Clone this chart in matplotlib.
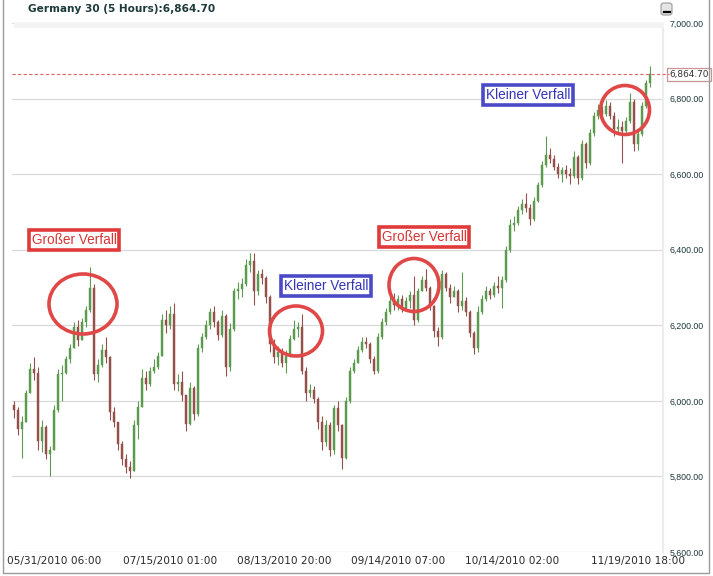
import matplotlib
matplotlib.use("Agg")
import matplotlib.pyplot as plt
import matplotlib.transforms as mtransforms
from matplotlib.patches import Ellipse, FancyBboxPatch, Rectangle
import numpy as np

# ---------------- data ----------------
title = "Germany 30 (5 Hours):6,864.70"
last_price = 6864.70
first_open = 5990

highs = [6000, 5985, 5960, 6030, 6100, 6115, 6090, 5950, 5935, 5880,
         5990, 6085, 6095, 6120, 6150, 6210, 6215, 6220, 6250, 6355,
         6310, 6110, 6150, 6170, 6120, 5985, 5940, 5895, 5860, 5840,
         5950, 6000, 6085, 6080, 6090, 6110, 6130, 6230, 6240, 6250,
         6260, 6070, 6080, 6010, 6050, 6040, 6150, 6180, 6215, 6245,
         6250, 6215, 6240, 6230, 6205, 6300, 6315, 6325, 6375, 6390,
         6390, 6345, 6350, 6330, 6280, 6165, 6145, 6140, 6135, 6175,
         6215, 6210, 6230, 6090, 6045, 6040, 6010, 5960, 5950, 5945,
         5990, 6000, 5940, 6010, 6090, 6110, 6145, 6170, 6170, 6155,
         6120, 6180, 6220, 6245, 6280, 6285, 6280, 6280, 6275, 6290,
         6330, 6300, 6330, 6350, 6305, 6255, 6195, 6345, 6340, 6310,
         6305, 6295, 6340, 6275, 6240, 6185, 6250, 6280, 6305, 6300,
         6315, 6330, 6330, 6410, 6480, 6490, 6515, 6535, 6550, 6520,
         6540, 6580, 6635, 6700, 6670, 6650, 6630, 6620, 6625, 6615,
         6660, 6650, 6690, 6685, 6720, 6765, 6785, 6780, 6795, 6790,
         6765, 6745, 6740, 6750, 6815, 6800, 6720, 6790, 6850, 6885]

lows = [5955, 5910, 5850, 5950, 6030, 6055, 5870, 5865, 5845, 5800,
        5880, 5970, 6000, 6070, 6100, 6140, 6145, 6160, 6195, 6235,
        6055, 6050, 6090, 6100, 5950, 5930, 5870, 5830, 5810, 5795,
        5830, 5900, 5985, 6030, 6040, 6075, 6085, 6120, 6180, 6190,
        6030, 6025, 6000, 5920, 5935, 5950, 5960, 6130, 6165, 6190,
        6195, 6160, 6170, 6065, 6080, 6185, 6270, 6275, 6305, 6340,
        6255, 6280, 6310, 6260, 6130, 6100, 6095, 6090, 6075, 6115,
        6160, 6170, 6070, 6000, 6010, 5995, 5925, 5870, 5880, 5855,
        5860, 5920, 5820, 5845, 5995, 6075, 6100, 6130, 6140, 6100,
        6070, 6075, 6165, 6200, 6230, 6240, 6240, 6235, 6240, 6245,
        6200, 6210, 6290, 6290, 6240, 6170, 6145, 6165, 6290, 6260,
        6275, 6235, 6240, 6225, 6170, 6125, 6130, 6230, 6265, 6270,
        6275, 6285, 6245, 6315, 6395, 6450, 6465, 6495, 6500, 6465,
        6475, 6525, 6565, 6620, 6630, 6610, 6590, 6580, 6590, 6575,
        6590, 6575, 6585, 6615, 6625, 6700, 6745, 6745, 6755, 6745,
        6700, 6705, 6630, 6705, 6735, 6660, 6665, 6700, 6775, 6830]

closes = [5975, 5925, 5945, 6020, 6085, 6075, 5895, 5930, 5860, 5870,
          5975, 6070, 6075, 6110, 6140, 6195, 6160, 6210, 6240, 6300,
          6070, 6095, 6135, 6115, 5970, 5945, 5885, 5845, 5825, 5815,
          5935, 5985, 6060, 6045, 6080, 6090, 6120, 6215, 6200, 6230,
          6045, 6050, 6015, 5940, 6035, 5965, 6140, 6170, 6200, 6235,
          6210, 6175, 6225, 6090, 6190, 6290, 6295, 6310, 6360, 6370,
          6290, 6335, 6325, 6275, 6150, 6115, 6130, 6100, 6120, 6165,
          6190, 6195, 6080, 6020, 6030, 6005, 5945, 5890, 5935, 5870,
          5980, 5935, 5850, 6000, 6080, 6100, 6135, 6155, 6150, 6110,
          6080, 6170, 6210, 6235, 6265, 6255, 6270, 6245, 6265, 6280,
          6215, 6290, 6320, 6300, 6250, 6185, 6170, 6335, 6300, 6275,
          6290, 6250, 6265, 6235, 6180, 6140, 6235, 6270, 6290, 6280,
          6305, 6300, 6320, 6400, 6465, 6470, 6505, 6520, 6510, 6480,
          6530, 6570, 6625, 6650, 6640, 6620, 6600, 6610, 6600, 6595,
          6645, 6590, 6680, 6630, 6710, 6755, 6770, 6760, 6780, 6755,
          6720, 6725, 6715, 6740, 6790, 6680, 6705, 6780, 6840, 6864.7]

y_ticks = [5600, 5800, 6000, 6200, 6400, 6600, 6800, 7000]
date_labels = ["05/31/2010 06:00", "07/15/2010 01:00", "08/13/2010 20:00",
               "09/14/2010 07:00", "10/14/2010 02:00", "11/19/2010 18:00"]
date_label_bars = [10, 39, 67.5, 96, 124.5, 156]

annotations = [
    ("Großer Verfall", "red", (74, 240), (83, 304), (68, 60)),
    ("Kleiner Verfall", "blue", (326, 286), (296, 331), (53, 50)),
    ("Großer Verfall", "red", (424, 237), (414, 285), (50, 53)),
    ("Kleiner Verfall", "blue", (528, 95), (625, 110), (49, 49)),
]

# ---------------- figure ----------------
W, H = 713, 576
fig = plt.figure(figsize=(W / 100, H / 100), dpi=100)
fig.patch.set_facecolor("white")

def fx(px):
    return px / W

def fy(py):
    return 1 - py / H

ax_left, ax_right, ax_top, ax_bot = 12, 663, 23, 552
ax = fig.add_axes([fx(ax_left), fy(ax_bot), fx(ax_right - ax_left), (ax_bot - ax_top) / H])
ax.set_facecolor("white")

n = len(closes)
x = np.arange(n)
opens = np.array([first_open] + closes[:-1], dtype=float)
c = np.array(closes, dtype=float)
hi = np.maximum(np.array(highs, dtype=float), np.maximum(opens, c))
lo = np.minimum(np.array(lows, dtype=float), np.minimum(opens, c))
up = c >= opens

up_col = "#5c9a50"
dn_col = "#94504a"
cols = np.where(up, up_col, dn_col)

ax.vlines(x, lo, hi, colors=cols, linewidth=0.8, zorder=3)
body_h = np.abs(c - opens)
body_h = np.where(body_h < 2, 2, body_h)
ax.bar(x, body_h, bottom=np.minimum(opens, c), width=0.5, color=cols,
       edgecolor=cols, linewidth=0.3, zorder=4)

ax.set_xlim(-0.5, (ax_right - 14) / 4)
ax.set_ylim(5600, 7000)

for yv in y_ticks:
    ax.axhline(yv, color="#d9d9d9", linewidth=0.9, zorder=1)

ax.yaxis.tick_right()
ax.set_yticks(y_ticks)
ax.set_yticklabels([f"{v:,.2f}" for v in y_ticks], fontsize=6.3,
                   color="#1e3838", family=["Liberation Sans Narrow", "Liberation Sans", "DejaVu Sans"])
ax.tick_params(axis="y", length=0, pad=5)

ax.set_xticks(date_label_bars)
ax.set_xticklabels(date_labels, fontsize=7.6, color="#2a2a2a", family="DejaVu Sans")
ax.tick_params(axis="x", length=0, pad=3)

for s in ["top", "left", "bottom"]:
    ax.spines[s].set_visible(False)
ax.spines["right"].set_color("#ececec")
ax.spines["right"].set_linewidth(1.5)

# last price dashed line + label box
ax.axhline(last_price, xmin=0, xmax=(669 - ax_left) / (ax_right - ax_left),
           color="#e06666", linestyle=(0, (3, 2)), linewidth=0.8, clip_on=False, zorder=5)
trans = mtransforms.blended_transform_factory(fig.transFigure, ax.transData)
ax.text(fx(689), last_price, f"{last_price:,.2f}", transform=trans, ha="center", va="center",
        fontsize=6.4, color="#333333", family="DejaVu Sans",
        bbox=dict(boxstyle="square,pad=0.22", facecolor="white", edgecolor="#c89494", linewidth=0.9))

# title
fig.text(fx(28), fy(9), title, fontsize=7.6, fontweight="bold", color="#1d3a3a",
         ha="left", va="center", family="DejaVu Sans")

# minimise button
btn = FancyBboxPatch((fx(661), fy(15)), fx(11), 12 / H, boxstyle="round,pad=0,rounding_size=0.004",
                     transform=fig.transFigure, facecolor="#e4e4e4", edgecolor="#9a9a9a", linewidth=0.8)
fig.patches.append(btn)
fig.add_artist(plt.Line2D([fx(663.5), fx(669.5)], [fy(11.5), fy(11.5)], transform=fig.transFigure,
                          color="black", linewidth=1.6))

# outer frame
fig.add_artist(plt.Line2D([fx(2.5), fx(2.5), fx(709), fx(709)], [fy(0), fy(573), fy(573), fy(0)],
                          transform=fig.transFigure, color="#9a9a9a", linewidth=1.0))
# top light shading of panel
fig.patches.append(Rectangle((fx(14), fy(28)), fx(650), 6 / H, transform=fig.transFigure,
                             facecolor="#f4f4f4", edgecolor="none", zorder=0))

# annotations
colmap = {"red": ("#e03a3a", "#d83535"), "blue": ("#4a4ac8", "#3535b8")}
for txt, ck, (tx, ty), (ex, ey), (ew, eh) in annotations:
    edge, tcol = colmap[ck]
    fig.text(fx(tx), fy(ty), txt, ha="center", va="center", fontsize=9.8, color=tcol,
             family="Liberation Sans",
             bbox=dict(boxstyle="square,pad=0.2", facecolor="white", edgecolor=edge, linewidth=2.6))
    e = Ellipse((fx(ex), fy(ey)), fx(ew), eh / H, transform=fig.transFigure,
                facecolor="none", edgecolor="#e04848", linewidth=2.6, zorder=10)
    fig.patches.append(e)

fig.savefig("out.png", dpi=100)
